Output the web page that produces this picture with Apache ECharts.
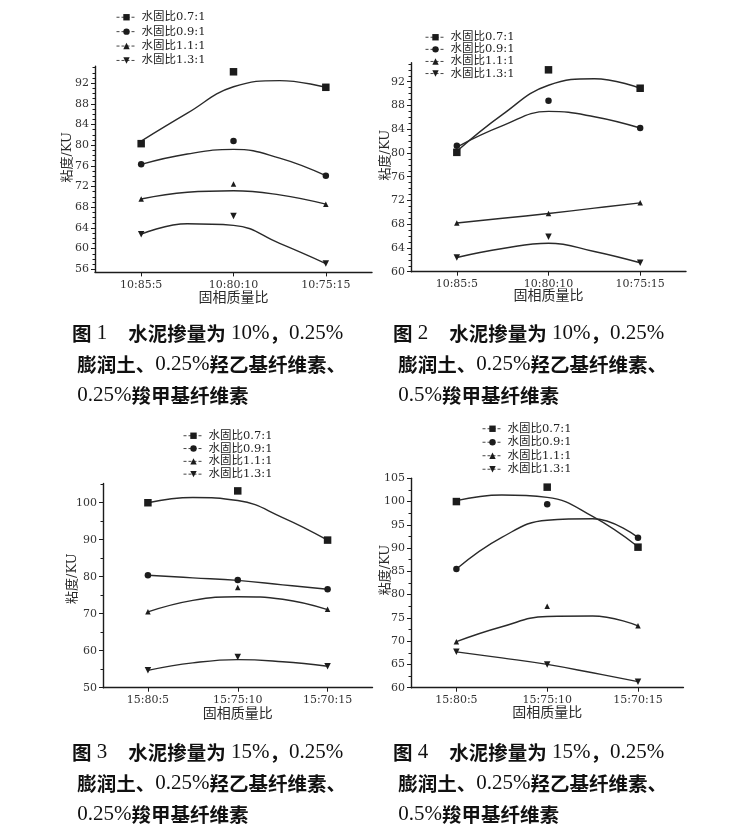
<!DOCTYPE html>
<html>
<head>
<meta charset="utf-8">
<script src="https://cdn.jsdelivr.net/npm/echarts@6/dist/echarts.min.js"></script>
<style>
html,body{margin:0;padding:0;background:#fff;}
#c{width:740px;height:834px;}
</style>
</head>
<body>
<div id="c"></div>
<script>
// ---------------- DATA ----------------
const cats1 = ['10:85:5', '10:80:10', '10:75:15'];
const cats2 = ['15:80:5', '15:75:10', '15:70:15'];
const seriesNames = ['水固比0.7:1', '水固比0.9:1', '水固比1.1:1', '水固比1.3:1'];
const curveX = [1, 1.5, 2, 2.5, 3];

// Figure 1 measured points
const f1_07 = [80.3, 94.2, 91.2];
const f1_09 = [76.3, 80.8, 74.1];
const f1_11 = [69.6, 72.5, 68.6];
const f1_13 = [62.8, 66.3, 57.1];
// Figure 1 fitted curves (read at curveX)
const f1c_07 = [80.8, 86.2, 91.3, 92.5, 91.2];
const f1c_09 = [76.3, 78.3, 79.2, 77.5, 74.1];
const f1c_11 = [69.6, 70.9, 71.2, 70.4, 68.6];
const f1c_13 = [62.8, 64.8, 64.5, 61.0, 57.1];

// Figure 2
const f2_07 = [80.1, 94.0, 90.9];
const f2_09 = [81.2, 88.8, 84.2];
const f2_11 = [68.2, 69.8, 71.6];
const f2_13 = [62.4, 65.9, 61.5];
const f2c_07 = [80.3, 86.5, 91.4, 92.5, 90.9];
const f2c_09 = [81.0, 84.6, 87.0, 86.1, 84.2];
const f2c_11 = [68.2, 69.0, 69.8, 70.7, 71.6];
const f2c_13 = [62.4, 63.9, 64.8, 63.4, 61.5];

// Figure 3
const f3_07 = [100.0, 103.2, 89.9];
const f3_09 = [80.4, 79.1, 76.6];
const f3_11 = [70.5, 77.1, 71.2];
const f3_13 = [54.7, 58.3, 55.8];
const f3c_07 = [100.0, 101.4, 100.6, 96.0, 89.9];
const f3c_09 = [80.4, 79.7, 79.0, 77.8, 76.6];
const f3c_11 = [70.5, 73.6, 74.6, 73.9, 71.1];
const f3c_13 = [54.7, 56.7, 57.6, 57.0, 55.8];

// Figure 4
const f4_07 = [100.0, 103.1, 90.2];
const f4_09 = [85.5, 99.4, 92.2];
const f4_11 = [69.9, 77.5, 73.3];
const f4_13 = [67.7, 65.0, 61.3];
const f4c_07 = [100.2, 101.4, 100.9, 96.8, 90.3];
const f4c_09 = [85.5, 92.3, 96.0, 96.3, 92.3];
const f4c_11 = [69.9, 73.1, 75.3, 75.4, 73.3];
const f4c_13 = [67.7, 66.4, 65.0, 63.2, 61.3];

// Tick labels
const yTicks1 = [56, 60, 64, 68, 72, 76, 80, 84, 88, 92];
const yTicks2 = [60, 64, 68, 72, 76, 80, 84, 88, 92];
const yTicks3 = [50, 60, 70, 80, 90, 100];
const yTicks4 = [60, 65, 70, 75, 80, 85, 90, 95, 100, 105];

const xName = '固相质量比';
const yName = '粘度/KU';

const captions = [
  ['图 1', '水泥掺量为', '10%', '0.25%', '0.25%羧甲基纤维素'],
  ['图 2', '水泥掺量为', '10%', '0.25%', '0.5%羧甲基纤维素'],
  ['图 3', '水泥掺量为', '15%', '0.25%', '0.25%羧甲基纤维素'],
  ['图 4', '水泥掺量为', '15%', '0.25%', '0.5%羧甲基纤维素']
];

// ---------------- LAYOUT / STYLE ----------------
const LBL_FONT = "'DejaVu Serif','Noto Sans CJK SC',serif";
const INK = '#1c1c1c';
const symbols = ['rect', 'circle', 'triangle', 'triangle'];
const symRot = [0, 0, 0, 180];
const symSize = [7.5, 6.5, 5.5, 6.5];

const panels = [
  { cats: cats1, pts: [f1_07, f1_09, f1_11, f1_13], crv: [f1c_07, f1c_09, f1c_11, f1c_13],
    yTicks: yTicks1, yMin: 55.4, yMax: 95.3, minor: 1,
    grid: { left: 95, top: 66.1, width: 277, height: 206.3 },
    legend: { left: 116, top: 11.5, itemGap: 2.9 }, yGap: 21, yPad: 24, xGap: 17 },
  { cats: cats1, pts: [f2_07, f2_09, f2_11, f2_13], crv: [f2c_07, f2c_09, f2c_11, f2c_13],
    yTicks: yTicks2, yMin: 60, yMax: 95.2, minor: 1,
    grid: { left: 411, top: 62.7, width: 275, height: 209 },
    legend: { left: 425, top: 31.5, itemGap: 0.6 }, yGap: 19, yPad: 24, xGap: 16 },
  { cats: cats2, pts: [f3_07, f3_09, f3_11, f3_13], crv: [f3c_07, f3c_09, f3c_11, f3c_13],
    yTicks: yTicks3, yMin: 50, yMax: 105.2, minor: 5,
    grid: { left: 103, top: 483.5, width: 269.5, height: 204.2 },
    legend: { left: 183, top: 430, itemGap: 1.3 }, yGap: 24, yPad: 14, xGap: 18 },
  { cats: cats2, pts: [f4_07, f4_09, f4_11, f4_13], crv: [f4c_07, f4c_09, f4c_11, f4c_13],
    yTicks: yTicks4, yMin: 60, yMax: 105, minor: 2.5,
    grid: { left: 411, top: 478.3, width: 272.4, height: 209.4 },
    legend: { left: 482, top: 423, itemGap: 2 }, yGap: 19, yPad: 26, xGap: 17 }
];

const option = {
  backgroundColor: '#fff',
  animation: false,
  grid: [], xAxis: [], yAxis: [], series: [], legend: [], graphic: []
};

panels.forEach((p, k) => {
  option.grid.push(Object.assign({ containLabel: false }, p.grid));
  // minor tick positions for this panel's y axis
  const minorVals = [];
  for (let v = Math.ceil(p.yMin / p.minor) * p.minor; v <= p.yMax + 1e-9; v += p.minor) minorVals.push(+v.toFixed(3));

  option.xAxis.push({
    type: 'value', gridIndex: k, min: 0.5, max: 3.5,
    name: xName, nameLocation: 'middle', nameGap: p.xGap, nameMoveOverlap: false,
    nameTextStyle: { fontFamily: "'Noto Sans CJK SC',sans-serif", fontSize: 14, color: '#2a2a2a' },
    axisLine: { show: true, lineStyle: { color: INK, width: 1.4 } },
    axisTick: { show: true, length: 4, lineStyle: { color: INK }, customValues: [1, 2, 3] },
    axisLabel: { customValues: [1, 2, 3], formatter: v => p.cats[Math.round(v) - 1],
      fontFamily: LBL_FONT, fontSize: 11, color: '#333', margin: 7 },
    splitLine: { show: false }
  });
  option.yAxis.push({
    type: 'value', gridIndex: k, min: p.yMin, max: p.yMax, position: 'left',
    name: yName, nameLocation: 'middle', nameGap: p.yGap, nameRotate: 90, nameMoveOverlap: false,
    nameTextStyle: { fontFamily: "'DejaVu Serif','Noto Sans CJK SC',serif", fontSize: 13, color: '#2a2a2a',
      padding: [0, 0, 0, p.yPad] },
    axisLine: { show: true, lineStyle: { color: INK, width: 1.4 } },
    axisTick: { show: true, length: 4, lineStyle: { color: INK }, customValues: p.yTicks },
    axisLabel: { customValues: p.yTicks, fontFamily: LBL_FONT, fontSize: 11, color: '#333', margin: 6 },
    splitLine: { show: false }
  });
  // second (tick-only) y axis carrying the minor ticks, on the same left line
  option.yAxis.push({
    type: 'value', gridIndex: k, min: p.yMin, max: p.yMax, position: 'left', offset: 0,
    axisLine: { show: false },
    axisTick: { show: true, length: 2.5, lineStyle: { color: INK }, customValues: minorVals },
    axisLabel: { show: false }, splitLine: { show: false }
  });

  seriesNames.forEach((nm, s) => {
    option.series.push({
      type: 'line', name: nm, xAxisIndex: k, yAxisIndex: 2 * k,
      data: p.pts[s].map((v, i) => [i + 1, v]),
      symbol: symbols[s], symbolRotate: symRot[s], symbolSize: symSize[s],
      itemStyle: { color: INK }, lineStyle: { opacity: 0, width: 0 },
      silent: true, z: 4
    });
  });
  seriesNames.forEach((nm, s) => {
    option.series.push({
      type: 'line', name: nm, xAxisIndex: k, yAxisIndex: 2 * k,
      data: curveX.map((x, i) => [x, p.crv[s][i]]),
      smooth: 0.45, symbol: 'none', showSymbol: false,
      lineStyle: { color: '#2a2a2a', width: 1.4 },
      silent: true, z: 3
    });
  });

  option.legend.push({
    data: seriesNames, orient: 'vertical', left: p.legend.left, top: p.legend.top, padding: 0,
    itemGap: p.legend.itemGap, itemWidth: 20, itemHeight: 8, selectedMode: false,
    textStyle: { fontFamily: LBL_FONT, fontSize: 11.5, color: '#222' },
    lineStyle: { type: [3, 2], width: 1, color: '#444', opacity: 1 },
    itemStyle: { color: INK, opacity: 1 }
  });
});

// captions (rich text: bold CJK, regular serif numerals)
const capPos = [[72, 323], [393, 323], [72, 742], [393, 742]];
captions.forEach((c, k) => {
  const line3cjk = c[4].replace(/^[0-9.%]+/, '');
  const line3num = c[4].match(/^[0-9.%]+/)[0];
  const text =
    '{c|' + c[0].split(' ')[0] + '}{n| ' + c[0].split(' ')[1] + '    }{c|' + c[1] + '}{n| ' + c[2] + '}{c|，}{n|' + c[3] + '}\n' +
    '{n| }{c|膨润土、}{n|0.25%}{c|羟乙基纤维素、}\n' +
    '{n| }{n|' + line3num + '}{c|' + line3cjk + '}';
  option.graphic.push({
    type: 'text', left: capPos[k][0], top: capPos[k][1], silent: true,
    style: {
      text: text, fill: '#111',
      rich: {
        c: { fontFamily: "'Noto Sans CJK SC',sans-serif", fontWeight: 'bold', fontSize: 19.5, lineHeight: 31, fill: '#111' },
        n: { fontFamily: "'Liberation Serif',serif", fontSize: 21, lineHeight: 31, fill: '#111' }
      }
    }
  });
});

const chart = echarts.init(document.getElementById('c'), null, { renderer: 'canvas' });
chart.setOption(option);
</script>
</body>
</html>
